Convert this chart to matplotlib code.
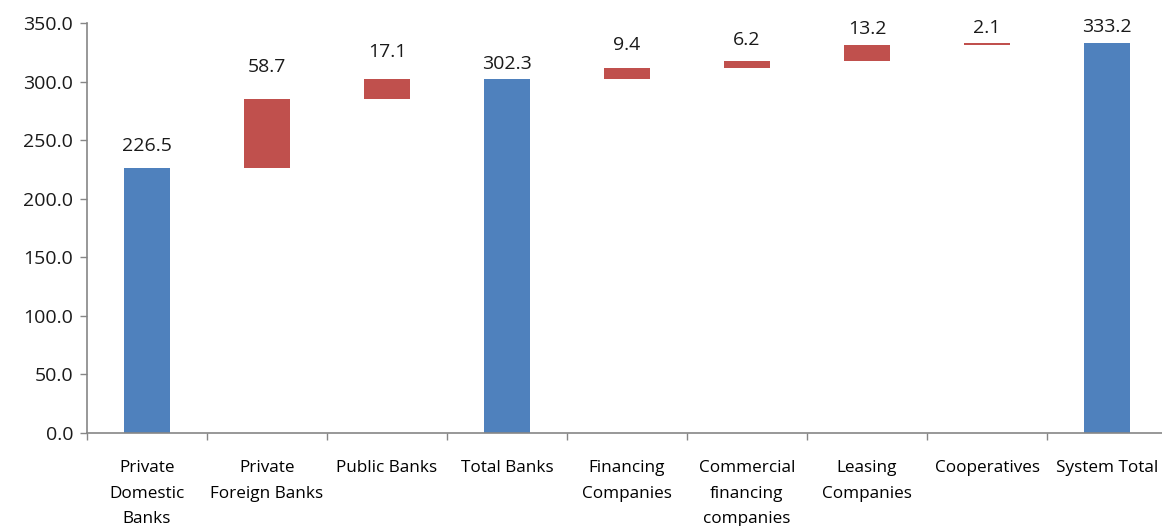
import numpy as np
import matplotlib.pyplot as plt

plt.rcParams['font.family'] = ['Open Sans', 'DejaVu Sans']

categories = ['Private\nDomestic\nBanks', 'Private\nForeign Banks', 'Public Banks',
              'Total Banks', 'Financing\nCompanies', 'Commercial\nfinancing\ncompanies',
              'Leasing\nCompanies', 'Cooperatives', 'System Total']
values = [226.5, 58.7, 17.1, 302.3, 9.4, 6.2, 13.2, 2.1, 333.2]
is_total = [True, False, False, True, False, False, False, False, True]

# gap between bar top and its value label, in points
label_gap = [9, 16.5, 13, 4, 10, 8, 5, 4, 5]

blue = '#4F81BD'
red = '#C0504D'
axis_grey = '#868686'

# running base for the increments, totals start from zero
bottoms = []
running = 0.0
for v, tot in zip(values, is_total):
    if tot:
        bottoms.append(0.0)
        running = v
    else:
        bottoms.append(running)
        running += v

x = np.arange(len(categories))
colors = [blue if t else red for t in is_total]

fig = plt.figure(figsize=(11.62, 5.26), dpi=100)
ax = fig.add_axes([87 / 1162, 93 / 526, 1080 / 1162, 410 / 526])

ax.bar(x, values, bottom=bottoms, width=0.385, color=colors, zorder=2)

for xi, v, b, g in zip(x, values, bottoms, label_gap):
    ax.annotate(f'{v:.1f}', (xi, b + v), xytext=(0, g), textcoords='offset points',
                ha='center', va='bottom', fontsize=14, color='#1a1a1a')

ax.set_ylim(0, 350)
ax.set_xlim(-0.5, len(categories) - 0.5)
ax.set_yticks(np.arange(0, 351, 50))
ax.set_yticklabels([f'{t:.1f}' for t in np.arange(0, 351, 50)])

ax.set_xticks(np.arange(-0.5, len(categories), 1.0))
ax.set_xticklabels([])
ax.set_xticks(x, minor=True)
ax.set_xticklabels(categories, minor=True, fontsize=12.3, linespacing=1.8, va='top')
ax.tick_params(axis='x', which='minor', length=0, pad=19.5)
ax.tick_params(axis='x', which='major', length=5, color=axis_grey, width=1)
ax.tick_params(axis='y', length=5, color=axis_grey, width=1, labelsize=14, pad=5,
               labelcolor='#1a1a1a')

for side in ['top', 'right']:
    ax.spines[side].set_visible(False)
for side in ['left', 'bottom']:
    ax.spines[side].set_color(axis_grey)
    ax.spines[side].set_linewidth(1.2)

fig.savefig('out.png', dpi=100)
